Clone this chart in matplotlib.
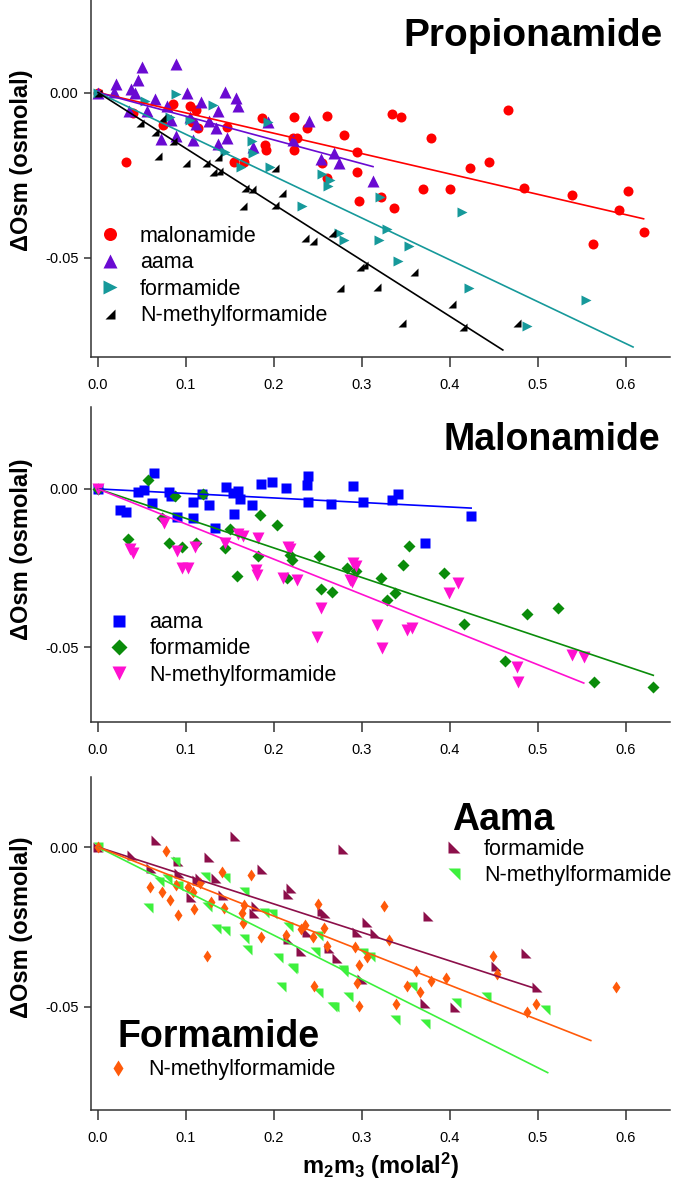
import numpy as np
import matplotlib
matplotlib.use("Agg")
import matplotlib.pyplot as plt
from matplotlib.path import Path

plt.rcParams['font.family'] = ['Liberation Sans', 'DejaVu Sans']
plt.rcParams['axes.unicode_minus'] = False
plt.rcParams['mathtext.fontset'] = 'custom'
plt.rcParams['mathtext.rm'] = 'Liberation Sans'
plt.rcParams['mathtext.bf'] = 'Liberation Sans:bold'

# ---------------- Propionamide panel ----------------
p1_mal_x = [0, 0.032, 0.040, 0.074, 0.085, 0.105, 0.111, 0.107, 0.114, 0.147, 0.154, 0.166,
            0.186, 0.190, 0.191, 0.223, 0.221, 0.226, 0.223, 0.238, 0.255, 0.260, 0.260, 0.280,
            0.294, 0.294, 0.297, 0.322, 0.336, 0.334, 0.344, 0.378, 0.369, 0.400, 0.423, 0.444,
            0.466, 0.484, 0.539, 0.563, 0.592, 0.602, 0.620]
p1_mal_y = [0, -0.0209, -0.0061, -0.0097, -0.0036, -0.0042, -0.0052, -0.0088, -0.0106, -0.0103,
            -0.0210, -0.0210, -0.0076, -0.0160, -0.0175, -0.0073, -0.0137, -0.0137, -0.0173,
            -0.0106, -0.0213, -0.0070, -0.0258, -0.0127, -0.0181, -0.0239, -0.0327, -0.0315,
            -0.0348, -0.0064, -0.0073, -0.0136, -0.0291, -0.0291, -0.0227, -0.0209, -0.0052,
            -0.0288, -0.0309, -0.0458, -0.0355, -0.0297, -0.0421]

p1_aama_x = [0, 0.020, 0.018, 0.050, 0.045, 0.037, 0.042, 0.089, 0.065, 0.056, 0.035, 0.072,
             0.078, 0.083, 0.089, 0.101, 0.108, 0.117, 0.126, 0.134, 0.136, 0.136, 0.147, 0.144,
             0.157, 0.159, 0.176, 0.193, 0.222, 0.240, 0.253, 0.268, 0.274, 0.3125, 0.105, 0.111]
p1_aama_y = [0, 0.0027, 0.0003, 0.0076, 0.0039, 0.0012, 0.0, 0.0085, -0.0018, -0.0057, -0.0057,
             -0.0142, -0.0042, -0.0082, -0.0130, 0.0, -0.0145, -0.0030, -0.0085, -0.0106, -0.0055,
             -0.0155, -0.0136, 0.0003, -0.0015, -0.0042, -0.0164, -0.0088, -0.0145, -0.0085,
             -0.0200, -0.0182, -0.0212, -0.0268, -0.0073, -0.0094]

p1_form_x = [0, 0.089, 0.053, 0.082, 0.131, 0.105, 0.144, 0.175, 0.176, 0.162, 0.193, 0.195,
             0.255, 0.264, 0.261, 0.320, 0.232, 0.414, 0.328, 0.274, 0.280, 0.319, 0.353, 0.341,
             0.422, 0.555, 0.488]
p1_form_y = [0, -0.0003, -0.0027, -0.0073, -0.0039, -0.0082, -0.0179, -0.0148, -0.0182, -0.0224,
             -0.0088, -0.0224, -0.0245, -0.0264, -0.0282, -0.0315, -0.0342, -0.0360, -0.0412,
             -0.0424, -0.0445, -0.0445, -0.0464, -0.0509, -0.0591, -0.0627, -0.0706]

p1_nmf_x = [0, 0.048, 0.065, 0.073, 0.085, 0.068, 0.100, 0.123, 0.131, 0.137, 0.136, 0.201,
            0.167, 0.175, 0.209, 0.165, 0.201, 0.235, 0.244, 0.266, 0.298, 0.302, 0.275, 0.317,
            0.359, 0.402, 0.345, 0.415, 0.476]
p1_nmf_y = [0, -0.0091, -0.0118, -0.0076, -0.0148, -0.0191, -0.0212, -0.0212, -0.0239, -0.0236,
            -0.0194, -0.0227, -0.0288, -0.0291, -0.0303, -0.0342, -0.0339, -0.0439, -0.0448,
            -0.0424, -0.0527, -0.0521, -0.0591, -0.0588, -0.0542, -0.0639, -0.0697, -0.0709,
            -0.0697]

p1_slopes = [-0.0616, -0.0717, -0.1266, -0.1693]
p1_xend = [0.620, 0.3125, 0.608, 0.460]

# ---------------- Malonamide panel ----------------
p2_aama_x = [0, 0.064, 0.045, 0.052, 0.025, 0.032, 0.061, 0.081, 0.083, 0.090, 0.108, 0.108,
             0.118, 0.126, 0.133, 0.145, 0.154, 0.153, 0.159, 0.161, 0.175, 0.185, 0.198, 0.214,
             0.239, 0.237, 0.239, 0.265, 0.290, 0.301, 0.334, 0.341, 0.424, 0.372]
p2_aama_y = [0, 0.0050, -0.0009, -0.0003, -0.0067, -0.0073, -0.0044, -0.0009, -0.0022, -0.0089,
             -0.0041, -0.0092, -0.0016, -0.0050, -0.0123, 0.0006, -0.0079, -0.0013, -0.0006,
             -0.0031, -0.0050, 0.0016, 0.0022, 0.0003, 0.0041, 0.0013, -0.0041, -0.0047, 0.0009,
             -0.0041, -0.0034, -0.0016, -0.0086, -0.0171]

p2_form_x = [0, 0.057, 0.088, 0.119, 0.073, 0.184, 0.203, 0.150, 0.034, 0.081, 0.095, 0.111,
             0.144, 0.158, 0.182, 0.215, 0.218, 0.220, 0.251, 0.253, 0.266, 0.283, 0.293, 0.321,
             0.338, 0.328, 0.353, 0.347, 0.393, 0.416, 0.462, 0.488, 0.523, 0.564, 0.631]
p2_form_y = [0, 0.0028, -0.0022, -0.0016, -0.0092, -0.0083, -0.0114, -0.0126, -0.0157, -0.0171,
             -0.0184, -0.0171, -0.0187, -0.0276, -0.0212, -0.0282, -0.0209, -0.0225, -0.0212,
             -0.0316, -0.0326, -0.0250, -0.0259, -0.0282, -0.0329, -0.0351, -0.0181, -0.0240,
             -0.0266, -0.0427, -0.0544, -0.0396, -0.0377, -0.0611, -0.0627]

p2_nmf_x = [0, 0.075, 0.159, 0.165, 0.182, 0.036, 0.040, 0.090, 0.095, 0.102, 0.110, 0.144,
            0.180, 0.181, 0.210, 0.216, 0.218, 0.226, 0.253, 0.249, 0.286, 0.290, 0.293, 0.289,
            0.317, 0.323, 0.351, 0.357, 0.399, 0.409, 0.476, 0.477, 0.539, 0.552]
p2_nmf_y = [0, -0.0108, -0.0142, -0.0148, -0.0155, -0.0190, -0.0203, -0.0196, -0.0250, -0.0250,
            -0.0184, -0.0171, -0.0256, -0.0273, -0.0282, -0.0184, -0.0190, -0.0288, -0.0377,
            -0.0468, -0.0288, -0.0234, -0.0243, -0.0294, -0.0430, -0.0503, -0.0446, -0.0440,
            -0.0329, -0.0298, -0.0563, -0.0611, -0.0525, -0.0532]

p2_slopes = [-0.0143, -0.0934, -0.1112]
p2_xend = [0.424, 0.631, 0.552]

# ---------------- Aama / Formamide panel ----------------
p3_af_x = [0, 0.039, 0.060, 0.066, 0.091, 0.092, 0.112, 0.116, 0.106, 0.126, 0.134, 0.142,
           0.156, 0.186, 0.180, 0.177, 0.219, 0.216, 0.255, 0.258, 0.278, 0.237, 0.216, 0.231,
           0.262, 0.272, 0.294, 0.306, 0.315, 0.300, 0.375, 0.372, 0.406, 0.486, 0.452, 0.499]
p3_af_y = [0, -0.0025, -0.0066, 0.0022, -0.0044, -0.0081, -0.0103, -0.0097, -0.0156, -0.0031,
           -0.0097, -0.0150, 0.0034, -0.0069, -0.0184, -0.0206, -0.0128, -0.0147, -0.0200,
           -0.0206, -0.0006, -0.0266, -0.0288, -0.0325, -0.0316, -0.0347, -0.0266, -0.0234,
           -0.0269, -0.0413, -0.0216, -0.0488, -0.0500, -0.0331, -0.0372, -0.0438]

p3_an_x = [0, 0.088, 0.069, 0.078, 0.091, 0.057, 0.122, 0.144, 0.124, 0.166, 0.189, 0.198,
           0.134, 0.144, 0.166, 0.169, 0.205, 0.216, 0.247, 0.250, 0.222, 0.301, 0.309, 0.278,
           0.266, 0.284, 0.357, 0.407, 0.441, 0.208, 0.220, 0.250, 0.268, 0.278, 0.337, 0.372,
           0.508]
p3_an_y = [0, -0.0047, -0.0109, -0.0100, -0.0122, -0.0191, -0.0094, -0.0097, -0.0188, -0.0141,
           -0.0206, -0.0209, -0.0256, -0.0263, -0.0288, -0.0322, -0.0347, -0.0250, -0.0328,
           -0.0278, -0.0378, -0.0331, -0.0344, -0.0384, -0.0500, -0.0469, -0.0438, -0.0488,
           -0.0469, -0.0438, -0.0381, -0.0456, -0.0500, -0.0391, -0.0540, -0.0553, -0.0510]

p3_fn_x = [0, 0.077, 0.059, 0.073, 0.082, 0.091, 0.089, 0.102, 0.108, 0.109, 0.116, 0.124,
           0.128, 0.141, 0.143, 0.164, 0.165, 0.166, 0.174, 0.185, 0.214, 0.231, 0.235, 0.244,
           0.250, 0.257, 0.260, 0.292, 0.297, 0.306, 0.325, 0.331, 0.294, 0.296, 0.339, 0.351,
           0.361, 0.366, 0.378, 0.395, 0.449, 0.453, 0.498, 0.488, 0.589, 0.245]
p3_fn_y = [0, -0.0013, -0.0125, -0.0141, -0.0166, -0.0213, -0.0119, -0.0125, -0.0141, -0.0194,
           -0.0113, -0.0341, -0.0172, -0.0078, -0.0191, -0.0206, -0.0238, -0.0181, -0.0088,
           -0.0281, -0.0275, -0.0256, -0.0244, -0.0281, -0.0178, -0.0253, -0.0309, -0.0313,
           -0.0369, -0.0344, -0.0184, -0.0291, -0.0425, -0.0497, -0.0491, -0.0434, -0.0388,
           -0.0453, -0.0419, -0.0409, -0.0341, -0.0397, -0.0491, -0.0516, -0.0438, -0.0434]

p3_slopes = [-0.089, -0.138, -0.108]
p3_xend = [0.497, 0.511, 0.560]

xticks = [0.0, 0.1, 0.2, 0.3, 0.4, 0.5, 0.6]
yticks = [0.0, -0.05]

# custom right-triangle markers
m_lr = Path([(-1, -1), (1, -1), (1, 1), (-1, -1)], closed=True)   # lower-right
m_ll = Path([(-1, 1), (-1, -1), (1, -1), (-1, 1)], closed=True)   # lower-left
m_ur = Path([(-1, 1), (1, 1), (1, -1), (-1, 1)], closed=True)     # upper-right

W, H = 677, 1198
fig = plt.figure(figsize=(W / 100, H / 100), dpi=100)


def make_ax(top, bottom, ylim):
    ax = fig.add_axes([91 / W, 1 - bottom / H, 579 / W, (bottom - top) / H])
    ax.set_xlim(-0.008, 0.65)
    ax.set_ylim(*ylim)
    for s in ['top', 'right']:
        ax.spines[s].set_visible(False)
    for s in ['left', 'bottom']:
        ax.spines[s].set_color('#333333')
        ax.spines[s].set_linewidth(1.1)
    ax.set_xticks(xticks)
    ax.set_xticklabels(['%.1f' % t for t in xticks])
    ax.set_yticks(yticks)
    ax.set_yticklabels(['0.00', '-0.05'])
    ax.tick_params(axis='x', direction='out', length=7, width=1.1, color='#333333',
                   labelsize=10.5, pad=8)
    ax.tick_params(axis='y', direction='out', length=5, width=1.1, color='#333333',
                   labelsize=10.5, pad=4)
    ax.set_ylabel('ΔOsm (osmolal)', fontsize=17, fontweight='bold')
    ax.yaxis.set_label_coords(-0.1, 0.55)
    return ax


def fit(ax, slope, xend, color):
    xx = np.array([0, xend])
    ax.plot(xx, slope * xx, color=color, lw=1.2, zorder=3)


leg_kw = dict(frameon=False, fontsize=15.5, handlelength=1.0, handletextpad=0.9,
              labelspacing=0.25, borderpad=0, borderaxespad=0, loc='upper left')

# panel 1
ax1 = make_ax(0, 357, (-0.080, 0.028))
h1 = ax1.plot(p1_mal_x, p1_mal_y, 'o', color='#FF0000', ms=7.2, mec='none', label='malonamide')[0]
h2 = ax1.plot(p1_aama_x, p1_aama_y, '^', color='#6A0AD2', ms=8, mec='none', label='aama')[0]
h3 = ax1.plot(p1_form_x, p1_form_y, '>', color='#16999A', ms=7.5, mec='none', label='formamide')[0]
h4 = ax1.plot(p1_nmf_x, p1_nmf_y, marker=m_lr, ls='none', color='black', ms=5.5, mec='none',
              label='N-methylformamide')[0]
for s, xe, c in zip(p1_slopes, p1_xend, ['#FF0000', '#6A0AD2', '#16999A', 'black']):
    fit(ax1, s, xe, c)
ax1.legend(handles=[h1, h2, h3, h4], bbox_to_anchor=(0.014, 0.367), markerscale=1.3, **leg_kw)
ax1.text(0.988, 0.90, 'Propionamide', transform=ax1.transAxes, ha='right', va='center',
         fontsize=28, fontweight='bold')

# panel 2
ax2 = make_ax(407, 722, (-0.0737, 0.0259))
g1 = ax2.plot(p2_aama_x, p2_aama_y, 's', color='#0000FF', ms=7, mec='none', label='aama')[0]
g2 = ax2.plot(p2_form_x, p2_form_y, 'D', color='#0A8C0A', ms=6.3, mec='none', label='formamide')[0]
g3 = ax2.plot(p2_nmf_x, p2_nmf_y, 'v', color='#FF10D0', ms=8, mec='none',
              label='N-methylformamide')[0]
for s, xe, c in zip(p2_slopes, p2_xend, ['#0000FF', '#0A8C0A', '#FF10D0']):
    fit(ax2, s, xe, c)
ax2.legend(handles=[g1, g2, g3], bbox_to_anchor=(0.030, 0.349), markerscale=1.3, **leg_kw)
ax2.text(0.983, 0.895, 'Malonamide', transform=ax2.transAxes, ha='right', va='center',
         fontsize=27, fontweight='bold')

# panel 3
ax3 = make_ax(777, 1110, (-0.0822, 0.0219))
k1 = ax3.plot(p3_af_x, p3_af_y, marker=m_ll, ls='none', color='#8C0F4A', ms=6.5, mec='none',
              label='formamide')[0]
k2 = ax3.plot(p3_an_x, p3_an_y, marker=m_ur, ls='none', color='#3DF03D', ms=6.5, mec='none',
              label='N-methylformamide')[0]
k3 = ax3.plot(p3_fn_x, p3_fn_y, 'd', color='#FF5A0A', ms=6.5, mec='none',
              label='N-methylformamide')[0]
for s, xe, c in zip(p3_slopes, p3_xend, ['#8C0F4A', '#3DF03D', '#FF5A0A']):
    fit(ax3, s, xe, c)
lg = ax3.legend(handles=[k1, k2], bbox_to_anchor=(0.608, 0.814), markerscale=1.3, **leg_kw)
ax3.add_artist(lg)
ax3.legend(handles=[k3], bbox_to_anchor=(0.028, 0.153), markerscale=1.3, **leg_kw)
ax3.text(0.623, 0.871, 'Aama', transform=ax3.transAxes, ha='left', va='center',
         fontsize=27, fontweight='bold')
ax3.text(0.045, 0.219, 'Formamide', transform=ax3.transAxes, ha='left', va='center',
         fontsize=27, fontweight='bold')
ax3.set_xlabel(r'$\mathbf{m_2m_3}$ (molal$\mathbf{^2}$)', fontsize=17, fontweight='bold')

fig.savefig('out.png', dpi=100)
